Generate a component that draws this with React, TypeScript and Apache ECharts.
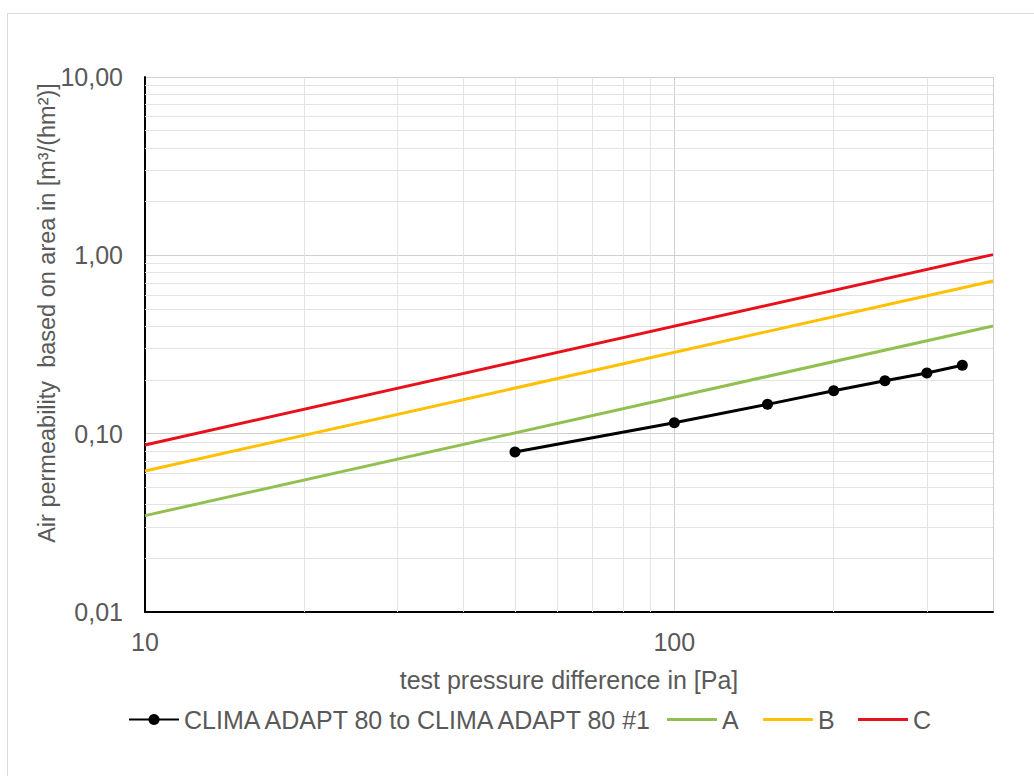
import React, { useEffect, useRef } from "react";
import * as echarts from "echarts";

// ---- data ----
const pressures = [50, 100, 150, 200, 250, 300, 350];
const permeability = [0.079, 0.115, 0.146, 0.174, 0.198, 0.219, 0.242];
const classX = [10, 400];
const classA = [0.0347, 0.402];
const classB = [0.0618, 0.718];
const classC = [0.0864, 1.009];
const seriesNames = ["CLIMA ADAPT 80 to CLIMA ADAPT 80 #1", "A", "B", "C"];
const xTickLabels = ["10", "100"];
const yTickLabels: Record<string, string> = { "0.01": "0,01", "0.1": "0,10", "1": "1,00", "10": "10,00" };
const minorX = [20, 30, 40, 50, 60, 70, 80, 90, 200, 300];
const minorY = [0.02, 0.03, 0.04, 0.05, 0.06, 0.07, 0.08, 0.09, 0.2, 0.3, 0.4, 0.5, 0.6, 0.7, 0.8, 0.9, 2, 3, 4, 5, 6, 7, 8, 9];
const xTitle = "test pressure difference in [Pa]";
const yTitle = "Air permeability  based on area in [m³/(hm²)]";

const FONT = "Arial, 'Liberation Sans', sans-serif";
const TXT = "#595959";
const FS = 25;

export default function App() {
  const ref = useRef<HTMLDivElement>(null);
  useEffect(() => {
    if (!ref.current) return;
    const chart = echarts.init(ref.current, undefined, { renderer: "svg" });
    const zip = (xs: number[], ys: number[]) => xs.map((x, i) => [x, ys[i]]);
    const legendCommon = {
      top: 702,
      itemWidth: 50,
      itemHeight: 14,
      itemGap: 5,
      textStyle: { fontSize: FS, color: TXT, fontFamily: FONT, padding: [0, 0, 0, 0] },
    };
    const lineIcon = "path://M0,0 L50,0 L50,3 L0,3 Z";
    chart.setOption({
      animation: false,
      backgroundColor: "#ffffff",
      graphic: [
        {
          type: "rect",
          shape: { x: 7.5, y: 13.5, width: 1040, height: 800 },
          style: { fill: "none", stroke: "#d9d9d9", lineWidth: 1 },
          silent: true,
        },
        {
          type: "text",
          x: 47,
          y: 313,
          rotation: Math.PI / 2,
          style: {
            text: yTitle,
            fontSize: 23.5,
            fontFamily: FONT,
            fill: TXT,
            align: "center",
            verticalAlign: "middle",
          },
        },
      ],
      grid: { left: 145, top: 77, width: 848, height: 535, containLabel: false },
      legend: [
        { ...legendCommon, left: 123, data: [seriesNames[0]] },
        { ...legendCommon, left: 662, itemHeight: 3, data: [{ name: seriesNames[1], icon: lineIcon }] },
        { ...legendCommon, left: 758, itemHeight: 3, data: [{ name: seriesNames[2], icon: lineIcon }] },
        { ...legendCommon, left: 853, itemHeight: 3, data: [{ name: seriesNames[3], icon: lineIcon }] },
      ],
      xAxis: {
        type: "log",
        logBase: 10,
        min: 10,
        max: 400,
        name: xTitle,
        nameLocation: "middle",
        nameGap: 55,
        nameTextStyle: { fontSize: FS, color: TXT, fontFamily: FONT },
        axisLine: { show: true, lineStyle: { color: "#000000", width: 2 } },
        axisTick: { show: false },
        axisLabel: {
          fontSize: FS,
          color: TXT,
          fontFamily: FONT,
          margin: 17,
          formatter: (v: number) => {
            const s = String(Math.round(v));
            return xTickLabels.includes(s) ? s : "";
          },
        },
        splitLine: { show: true, lineStyle: { color: "#cfcfcf", width: 1 } },
      },
      yAxis: {
        type: "log",
        logBase: 10,
        min: 0.01,
        max: 10,
        axisLine: { show: true, onZero: false, lineStyle: { color: "#000000", width: 2 } },
        axisTick: { show: false },
        axisLabel: {
          fontSize: FS,
          color: TXT,
          fontFamily: FONT,
          margin: 22,
          formatter: (v: number) => {
            const key = String(parseFloat(v.toPrecision(6)));
            return yTickLabels[key] ?? "";
          },
        },
        splitLine: { show: true, lineStyle: { color: "#cfcfcf", width: 1 } },
      },
      series: [
        {
          name: "grid-minor",
          type: "line",
          data: [[10, 0.01]],
          symbol: "none",
          lineStyle: { width: 0 },
          silent: true,
          z: 1,
          markLine: {
            silent: true,
            z: 1,
            symbol: "none",
            label: { show: false },
            lineStyle: { color: "#e3e3e3", width: 1, type: "solid" },
            data: [...minorX.map((v) => ({ xAxis: v })), ...minorY.map((v) => ({ yAxis: v }))],
          },
        },
        {
          name: seriesNames[1],
          type: "line",
          data: zip(classX, classA),
          symbol: "none",
          color: "#92c050",
          lineStyle: { width: 3, color: "#92c050" },
          z: 3,
        },
        {
          name: seriesNames[2],
          type: "line",
          data: zip(classX, classB),
          symbol: "none",
          color: "#ffc000",
          lineStyle: { width: 3, color: "#ffc000" },
          z: 3,
        },
        {
          name: seriesNames[3],
          type: "line",
          data: zip(classX, classC),
          symbol: "none",
          color: "#e8101c",
          lineStyle: { width: 3, color: "#e8101c" },
          z: 3,
        },
        {
          name: seriesNames[0],
          type: "line",
          data: zip(pressures, permeability),
          symbol: "circle",
          symbolSize: 11,
          color: "#000000",
          itemStyle: { color: "#000000" },
          lineStyle: { width: 3, color: "#000000" },
          z: 4,
        },
      ],
    });
    return () => chart.dispose();
  }, []);
  return (
    <div
      ref={ref}
      style={{ position: "fixed", left: 0, top: 0, width: 1034, height: 776, background: "#fff" }}
    />
  );
}
